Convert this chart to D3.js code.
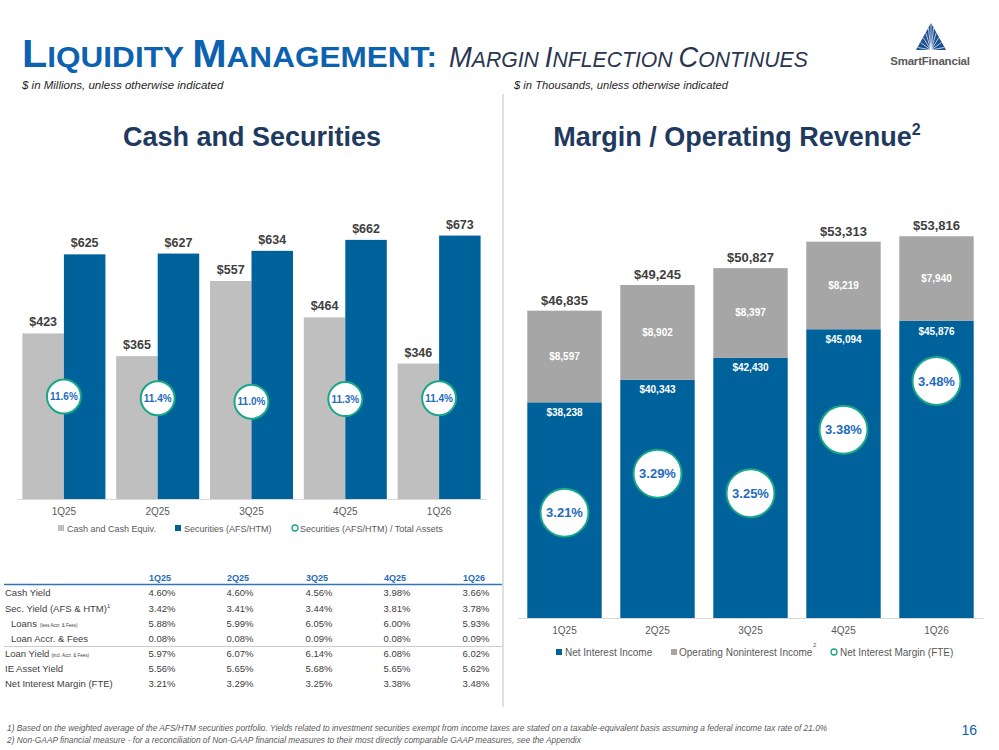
<!DOCTYPE html>
<html>
<head>
<meta charset="utf-8">
<script src="https://cdn.jsdelivr.net/npm/d3@7"></script>
<style>
  html, body { margin: 0; padding: 0; background: #fff; }
  svg { display: block; }
</style>
</head>
<body>
<div id="chart"></div>
<script>
// Données
const quarters = ["1Q25", "2Q25", "3Q25", "4Q25", "1Q26"]
const cashEquiv = [423, 365, 557, 464, 346]
const securities = [625, 627, 634, 662, 673]
const secToAssets = [11.6, 11.4, 11.0, 11.3, 11.4]

const netInterestIncome = [38238, 40343, 42430, 45094, 45876]
const nonInterestIncome = [8597, 8902, 8397, 8219, 7940]
const netInterestMargin = [3.21, 3.29, 3.25, 3.38, 3.48]

const tableLabels = ["Cash Yield", "Sec. Yield (AFS & HTM)", "Loans", "Loan Accr. & Fees", "Loan Yield", "IE Asset Yield", "Net Interest Margin (FTE)"]
const tableValues = [
  ["4.60%", "4.60%", "4.56%", "3.98%", "3.66%"],
  ["3.42%", "3.41%", "3.44%", "3.81%", "3.78%"],
  ["5.88%", "5.99%", "6.05%", "6.00%", "5.93%"],
  ["0.08%", "0.08%", "0.09%", "0.08%", "0.09%"],
  ["5.97%", "6.07%", "6.14%", "6.08%", "6.02%"],
  ["5.56%", "5.65%", "5.68%", "5.65%", "5.62%"],
  ["3.21%", "3.29%", "3.25%", "3.38%", "3.48%"],
]

const W = 999, H = 750
const C = {
  blue: "#00629b", gray: "#bfbfbf", grayDark: "#a6a6a6",
  title: "#0d62b0", navy: "#1f3a5f", text: "#404040", axis: "#595959",
  ring: "#1aa689", ringText: "#1f6cbd", rule: "#d9d9d9",
}
const sans = "'Liberation Sans', Arial, sans-serif"
const narrow = "'Liberation Sans Narrow', 'Arial Narrow', 'Liberation Sans', sans-serif"

const svg = d3.select("#chart").append("svg")
  .attr("width", W).attr("height", H)
  .attr("font-family", sans)

// Titre en petites capitales (largeur recalée sur la maquette)
const smallCaps = (sel, word, big, small) => {
  sel.append("tspan").attr("font-size", big).text(word[0])
  sel.append("tspan").attr("font-size", small).text(word.slice(1))
}
function fitWidth(sel, x, width) {
  const bb = sel.node().getBBox()
  const k = width / bb.width
  sel.attr("transform", `translate(${x},0) scale(${k},1) translate(${-bb.x},0)`)
}
const title1 = svg.append("text").attr("x", 0).attr("y", 67)
  .attr("font-family", narrow).attr("font-weight", 700).attr("fill", C.title)
smallCaps(title1, "LIQUIDITY ", 38, 29)
smallCaps(title1, "MANAGEMENT:", 38, 29)
fitWidth(title1, 22, 415)

const title2 = svg.append("text").attr("x", 0).attr("y", 67)
  .attr("font-family", narrow).attr("font-style", "italic").attr("fill", "#2a3550")
smallCaps(title2, "MARGIN ", 29, 22.5)
smallCaps(title2, "INFLECTION ", 29, 22.5)
smallCaps(title2, "CONTINUES", 29, 22.5)
fitWidth(title2, 449, 359)

// Sous-titres
svg.append("text").attr("x", 22).attr("y", 89)
  .attr("font-family", narrow).attr("font-style", "italic").attr("font-size", 11.5).attr("fill", "#262626")
  .text("$ in Millions, unless otherwise indicated")
svg.append("text").attr("x", 514).attr("y", 89)
  .attr("font-family", narrow).attr("font-style", "italic").attr("font-size", 11.2).attr("fill", "#262626")
  .text("$ in Thousands, unless otherwise indicated")

// Logo
const logo = svg.append("g")
logo.append("path").attr("d", "M931,23 L946,50 L916,50 Z").attr("fill", "#1d4f91")
d3.range(-5, 6).forEach((i) => {
  logo.append("line")
    .attr("x1", 931).attr("y1", 50)
    .attr("x2", 931 + i * 2.6).attr("y2", 23 + Math.abs(i) * 4.9)
    .attr("stroke", "#fff").attr("stroke-width", 0.7)
})
logo.append("text").attr("x", 930).attr("y", 65).attr("text-anchor", "middle")
  .attr("font-size", 11.5).attr("font-weight", 700).attr("fill", "#595959")
  .attr("letter-spacing", -0.2).text("SmartFinancial")

// Séparateur vertical
svg.append("line").attr("x1", 503).attr("x2", 503).attr("y1", 94).attr("y2", 707)
  .attr("stroke", "#bfbfbf").attr("stroke-width", 1)

// Titres de section
svg.append("text").attr("x", 252).attr("y", 146).attr("text-anchor", "middle")
  .attr("font-size", 27).attr("font-weight", 700).attr("fill", C.navy)
  .text("Cash and Securities")
const t2 = svg.append("text").attr("x", 737).attr("y", 146).attr("text-anchor", "middle")
  .attr("font-size", 27).attr("font-weight", 700).attr("fill", C.navy)
t2.append("tspan").text("Margin / Operating Revenue")
t2.append("tspan").attr("font-size", 16).attr("dy", -11).text("2")

// Pastilles
function ring(g, cx, cy, r, label, fs) {
  g.append("circle").attr("cx", cx).attr("cy", cy).attr("r", r)
    .attr("fill", "#fff").attr("stroke", C.ring).attr("stroke-width", 2)
  g.append("text").attr("x", cx).attr("y", cy).attr("dy", "0.36em")
    .attr("text-anchor", "middle").attr("font-size", fs).attr("font-weight", 700)
    .attr("fill", C.ringText).text(label)
}

// ---------- Graphique gauche : Cash and Securities ----------
const left = svg.append("g")
const xL = d3.scaleBand().domain(quarters).range([17, 486]).paddingInner(0.115).paddingOuter(0.0575)
const xLs = d3.scaleBand().domain(["cash", "sec"]).range([0, xL.bandwidth()])
const yL = d3.scaleLinear().domain([0, 700]).range([499, 225])
const yL2 = d3.scaleLinear().domain([0, 31]).range([499, 225])

const leftRows = quarters.map((q, i) => ({ q, cash: cashEquiv[i], sec: securities[i], pct: secToAssets[i] }))

left.append("g").attr("transform", "translate(0,499)")
  .call(d3.axisBottom(xL).tickSize(0).tickPadding(9))
  .call((s) => s.select(".domain").attr("stroke", C.rule))
  .call((s) => s.selectAll("text").attr("fill", C.axis).attr("font-size", 10).attr("font-family", sans))

;["cash", "sec"].forEach((k) => {
  left.selectAll(`rect.${k}`).data(leftRows).join("rect").attr("class", k)
    .attr("x", (d) => xL(d.q) + xLs(k)).attr("width", xLs.bandwidth())
    .attr("y", (d) => yL(d[k])).attr("height", (d) => yL(0) - yL(d[k]))
    .attr("fill", k === "cash" ? C.gray : C.blue)
  left.selectAll(`text.${k}`).data(leftRows).join("text").attr("class", k)
    .attr("x", (d) => xL(d.q) + xLs(k) + xLs.bandwidth() / 2).attr("y", (d) => yL(d[k]) - 7)
    .attr("text-anchor", "middle").attr("font-size", 12.5).attr("font-weight", 700).attr("fill", C.text)
    .text((d) => `$${d[k]}`)
})
leftRows.forEach((d) => ring(left, xL(d.q) + xL.bandwidth() / 2, yL2(d.pct), 17, `${d.pct.toFixed(1)}%`, 10))

// Légende gauche
const legL = left.append("g").attr("font-size", 9).attr("fill", C.axis)
legL.append("rect").attr("x", 58).attr("y", 525).attr("width", 6).attr("height", 6).attr("fill", C.gray)
legL.append("text").attr("x", 67).attr("y", 531.5).text("Cash and Cash Equiv.")
legL.append("rect").attr("x", 175).attr("y", 525).attr("width", 6).attr("height", 6).attr("fill", C.blue)
legL.append("text").attr("x", 184).attr("y", 531.5).text("Securities (AFS/HTM)")
legL.append("circle").attr("cx", 295).attr("cy", 528).attr("r", 3).attr("fill", "none").attr("stroke", C.ring).attr("stroke-width", 1.3)
legL.append("text").attr("x", 300).attr("y", 531.5).text("Securities (AFS/HTM) / Total Assets")

// ---------- Tableau ----------
const tbl = svg.append("g").attr("font-size", 9.5).attr("fill", C.text)
const colX = [162, 240, 319, 397, 476]
const rowY = [595.5, 611.5, 626.5, 641.5, 656.5, 671.5, 687]
quarters.forEach((q, j) => {
  tbl.append("text").attr("x", colX[j] - 2).attr("y", 580.5).attr("text-anchor", "middle")
    .attr("font-weight", 700).attr("font-size", 9).attr("fill", C.ringText).text(q)
})
tbl.append("line").attr("x1", 4).attr("x2", 502).attr("y1", 584.5).attr("y2", 584.5)
  .attr("stroke", "#2e75b6").attr("stroke-width", 1.5)
tbl.append("line").attr("x1", 4).attr("x2", 502).attr("y1", 646.5).attr("y2", 646.5)
  .attr("stroke", "#bfbfbf").attr("stroke-width", 0.8)
tableLabels.forEach((lab, i) => {
  const indent = i === 2 || i === 3
  const t = tbl.append("text").attr("x", indent ? 11 : 5).attr("y", rowY[i])
  t.append("tspan").text(lab)
  if (i === 1) t.append("tspan").attr("font-size", 6).attr("dy", -4).text("1")
  if (i === 2) t.append("tspan").attr("font-size", 4.5).attr("dx", 3).text("(less Accr. & Fees)")
  if (i === 4) t.append("tspan").attr("font-size", 4.5).attr("dx", 2).text("(incl. Accr. & Fees)")
  tableValues[i].forEach((v, j) => {
    tbl.append("text").attr("x", colX[j]).attr("y", rowY[i]).attr("text-anchor", "middle").text(v)
  })
})

// ---------- Graphique droit : Margin / Operating Revenue ----------
const right = svg.append("g")
const xR = d3.scaleBand().domain(quarters).range([518, 983]).paddingInner(0.2).paddingOuter(0.1)
const yR = d3.scaleLinear().domain([18000, 56000]).range([618, 213])
const yR2 = d3.scaleLinear().domain([3.0, 3.8]).range([615, 225])

const rightRows = quarters.map((q, i) => ({
  q, nii: netInterestIncome[i], nonii: nonInterestIncome[i], nim: netInterestMargin[i],
  total: netInterestIncome[i] + nonInterestIncome[i],
}))
const fmt = d3.format(",")

right.append("g").attr("transform", "translate(0,618)")
  .call(d3.axisBottom(xR).tickSize(0).tickPadding(9))
  .call((s) => s.select(".domain").attr("stroke", C.rule))
  .call((s) => s.selectAll("text").attr("fill", C.axis).attr("font-size", 10).attr("font-family", sans))

right.selectAll("rect.nii").data(rightRows).join("rect").attr("class", "nii")
  .attr("x", (d) => xR(d.q)).attr("width", xR.bandwidth())
  .attr("y", (d) => yR(d.nii)).attr("height", (d) => yR.range()[0] - yR(d.nii))
  .attr("fill", C.blue)
right.selectAll("rect.nonii").data(rightRows).join("rect").attr("class", "nonii")
  .attr("x", (d) => xR(d.q)).attr("width", xR.bandwidth())
  .attr("y", (d) => yR(d.total)).attr("height", (d) => yR(d.nii) - yR(d.total))
  .attr("fill", C.grayDark)

const cx = (d) => xR(d.q) + xR.bandwidth() / 2
right.selectAll("text.total").data(rightRows).join("text").attr("class", "total")
  .attr("x", cx).attr("y", (d) => yR(d.total) - 6)
  .attr("text-anchor", "middle").attr("font-size", 13).attr("font-weight", 700).attr("fill", C.text)
  .text((d) => `$${fmt(d.total)}`)
right.selectAll("text.nonii").data(rightRows).join("text").attr("class", "nonii")
  .attr("x", cx).attr("y", (d) => (yR(d.total) + yR(d.nii)) / 2).attr("dy", "0.36em")
  .attr("text-anchor", "middle").attr("font-size", 10).attr("font-weight", 700).attr("fill", "#fff")
  .text((d) => `$${fmt(d.nonii)}`)
right.selectAll("text.nii").data(rightRows).join("text").attr("class", "nii")
  .attr("x", cx).attr("y", (d) => yR(d.nii) + 10).attr("dy", "0.36em")
  .attr("text-anchor", "middle").attr("font-size", 10).attr("font-weight", 700).attr("fill", "#fff")
  .text((d) => `$${fmt(d.nii)}`)
rightRows.forEach((d) => ring(right, cx(d), yR2(d.nim), 24, `${d.nim.toFixed(2)}%`, 13))

// Légende droite
const legR = right.append("g").attr("font-size", 10).attr("fill", C.axis)
legR.append("rect").attr("x", 556).attr("y", 649).attr("width", 6).attr("height", 6).attr("fill", C.blue)
legR.append("text").attr("x", 565).attr("y", 655.5).text("Net Interest Income")
legR.append("rect").attr("x", 671).attr("y", 649).attr("width", 6).attr("height", 6).attr("fill", C.grayDark)
legR.append("text").attr("x", 679).attr("y", 655.5).text("Operating Noninterest Income")
legR.append("text").attr("x", 813).attr("y", 647).attr("font-size", 6).text("2")
legR.append("circle").attr("cx", 834).attr("cy", 652).attr("r", 3).attr("fill", "none").attr("stroke", C.ring).attr("stroke-width", 1.3)
legR.append("text").attr("x", 840).attr("y", 655.5).text("Net Interest Margin (FTE)")

// Notes de bas de page
const notes = svg.append("g").attr("font-family", narrow).attr("font-style", "italic")
  .attr("font-size", 8.35).attr("fill", "#595959")
notes.append("text").attr("x", 7).attr("y", 731)
  .text("1)  Based on the weighted average of the AFS/HTM securities portfolio. Yields related to investment securities exempt from income taxes are stated on a taxable-equivalent basis assuming a federal income tax rate of 21.0%")
notes.append("text").attr("x", 7).attr("y", 743)
  .text("2)  Non-GAAP financial measure - for a reconciliation of Non-GAAP financial measures to their most directly comparable GAAP measures, see the Appendix")
svg.append("text").attr("x", 977).attr("y", 735).attr("text-anchor", "end")
  .attr("font-family", narrow).attr("font-size", 14).attr("fill", C.title).text("16")
</script>
</body>
</html>
